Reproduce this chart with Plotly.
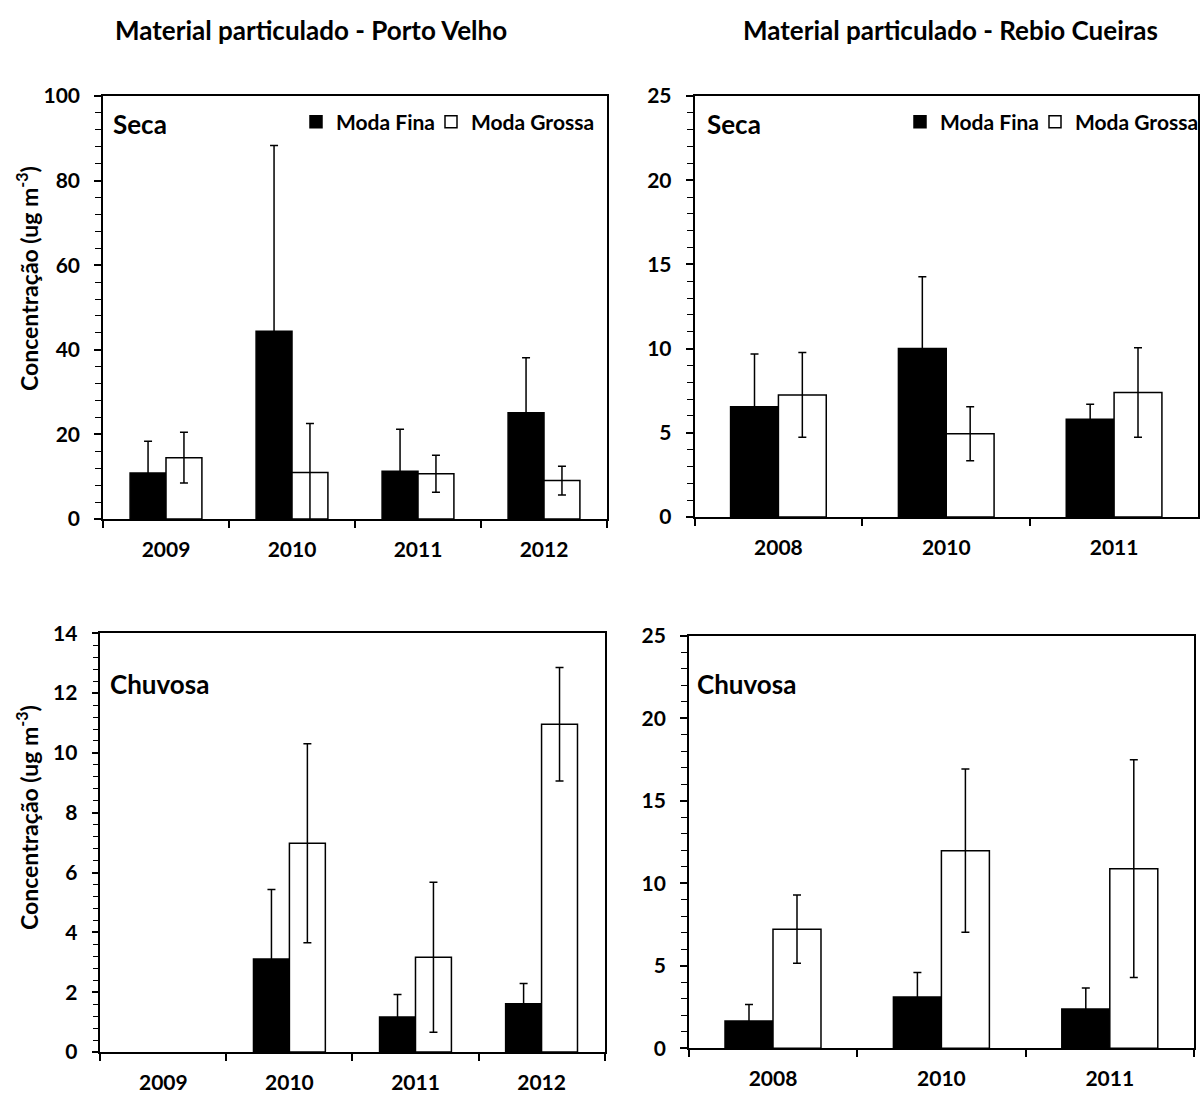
import plotly.graph_objects as go

W, H = 1200, 1093

# ---------------- data ----------------
pv_years = ["2009", "2010", "2011", "2012"]
rc_years = ["2008", "2010", "2011"]

pv_seca_fina = [10.9, 44.4, 11.3, 25.1]
pv_seca_fina_err = [7.5, 43.9, 9.9, 13.0]
pv_seca_grossa = [14.5, 11.0, 10.7, 9.1]
pv_seca_grossa_err = [6.0, 11.6, 4.4, 3.4]

rc_seca_fina = [6.54, 10.0, 5.81]
rc_seca_fina_err = [3.14, 4.27, 0.89]
rc_seca_grossa = [7.25, 4.94, 7.39]
rc_seca_grossa_err = [2.52, 1.6, 2.66]

pv_chuv_fina = [None, 3.11, 1.17, 1.61]
pv_chuv_fina_err = [None, 2.32, 0.75, 0.68]
pv_chuv_grossa = [None, 6.98, 3.17, 10.96]
pv_chuv_grossa_err = [None, 3.33, 2.51, 1.9]

rc_chuv_fina = [1.66, 3.11, 2.38]
rc_chuv_fina_err = [0.99, 1.48, 1.28]
rc_chuv_grossa = [7.22, 11.98, 10.89]
rc_chuv_grossa_err = [2.07, 4.95, 6.6]

series_names = ["Moda Fina", "Moda Grossa"]
col_titles = ["Material particulado - Porto Velho", "Material particulado - Rebio Cueiras"]
season_labels = ["Seca", "Chuvosa"]
y_title = "Concentração (ug m<sup>-3</sup>)"

FONT = "Lato"


def px_x(v):
    return v / W


def px_y(v):
    return 1 - v / H


fig = go.Figure()

panels = [
    ("", pv_years, pv_seca_fina, pv_seca_fina_err, pv_seca_grossa, pv_seca_grossa_err, "legend",
     (103, 607), (96, 519), (0, 100), 20, 4),
    ("2", rc_years, rc_seca_fina, rc_seca_fina_err, rc_seca_grossa, rc_seca_grossa_err, "legend2",
     (694.5, 1198), (96, 517), (0, 25), 5, 1),
    ("3", pv_years, pv_chuv_fina, pv_chuv_fina_err, pv_chuv_grossa, pv_chuv_grossa_err, None,
     (100.3, 604.6), (633.3, 1052), (0, 14), 2, 0.4),
    ("4", rc_years, rc_chuv_fina, rc_chuv_fina_err, rc_chuv_grossa, rc_chuv_grossa_err, None,
     (688.8, 1194), (636, 1048.3), (0, 25), 5, 1),
]

layout_axes = {}
for suf, cats, fina, fe, gros, ge, leg, xp, yp, yr, dt, mn in panels:
    xa = "x" + suf
    ya = "y" + suf
    show = leg is not None
    fig.add_trace(go.Bar(
        x=cats, y=fina, name=series_names[0], xaxis=xa, yaxis=ya,
        marker=dict(color="black", line=dict(color="black", width=1.5)),
        error_y=dict(type="data", array=fe, visible=True, color="black", thickness=1.5, width=4),
        showlegend=show, legend=leg if show else "legend", legendwidth=90,
    ))
    fig.add_trace(go.Bar(
        x=cats, y=gros, name=series_names[1], xaxis=xa, yaxis=ya,
        marker=dict(color="white", line=dict(color="black", width=1.5)),
        error_y=dict(type="data", array=ge, visible=True, color="black", thickness=1.5, width=4),
        showlegend=show, legend=leg if show else "legend",
    ))
    key = "axis" + suf
    layout_axes["x" + key] = dict(
        domain=[px_x(xp[0]), px_x(xp[1])], anchor=ya, type="category",
        showline=True, linecolor="black", linewidth=1.5, mirror=True,
        ticks="outside", tickson="boundaries", ticklen=7, tickwidth=1.5, tickcolor="black",
        tickfont=dict(family=FONT, size=21, color="black", weight="bold"),
        ticklabelstandoff=11, showgrid=False, zeroline=False, fixedrange=True,
    )
    layout_axes["y" + key] = dict(
        domain=[px_y(yp[1]), px_y(yp[0])], anchor=xa, range=list(yr), dtick=dt,
        showline=True, linecolor="black", linewidth=1.5, mirror=True,
        ticks="outside", ticklen=7, tickwidth=1.5, tickcolor="black",
        minor=dict(dtick=mn, ticks="outside", ticklen=6, tickwidth=1.2, tickcolor="black"),
        tickfont=dict(family=FONT, size=21, color="black", weight="bold"),
        ticklabelstandoff=10, showgrid=False, zeroline=False, fixedrange=True,
    )

annotations = []
annotations.append(dict(text=col_titles[0], x=px_x(311), y=px_y(30), xref="paper", yref="paper",
                        showarrow=False, xanchor="center", yanchor="middle",
                        font=dict(family=FONT, size=26, color="black", weight="bold")))
annotations.append(dict(text=col_titles[1], x=px_x(950), y=px_y(30), xref="paper", yref="paper",
                        showarrow=False, xanchor="center", yanchor="middle",
                        font=dict(family=FONT, size=26, color="black", weight="bold")))
for txt, xpx, ypx in [(season_labels[0], 111, 124), (season_labels[0], 705, 124),
                      (season_labels[1], 108, 684), (season_labels[1], 695, 684)]:
    annotations.append(dict(text=txt, x=px_x(xpx), y=px_y(ypx), xref="paper", yref="paper",
                            showarrow=False, xanchor="left", yanchor="middle",
                            font=dict(family=FONT, size=26, color="black", weight="bold")))
for ypx in (279, 818):
    annotations.append(dict(text=y_title, x=px_x(27), y=px_y(ypx), xref="paper", yref="paper",
                            showarrow=False, textangle=-90, xanchor="center", yanchor="middle",
                            font=dict(family=FONT, size=23, color="black", weight="bold")))

leg_common = dict(orientation="h", xanchor="right", yanchor="middle", bgcolor="rgba(0,0,0,0)",
                  font=dict(family=FONT, size=21, color="black", weight="bold"),
                  itemwidth=30, tracegroupgap=0, traceorder="normal")

fig.update_layout(
    width=W, height=H, margin=dict(l=0, r=0, t=0, b=0, autoexpand=False),
    paper_bgcolor="white", plot_bgcolor="white",
    font=dict(family=FONT, color="black", weight="bold"),
    barmode="group", bargap=0.43, bargroupgap=0,
    annotations=annotations,
    legend=dict(x=px_x(600), y=px_y(122), **leg_common),
    legend2=dict(x=px_x(1204), y=px_y(122), **leg_common),
    **layout_axes,
)

# the page body's default 8px margin would push the 1200x1093 figure past the window
fig.write_html("out.html", config={"displayModeBar": False},
               post_script="document.body.style.margin='0px';")
